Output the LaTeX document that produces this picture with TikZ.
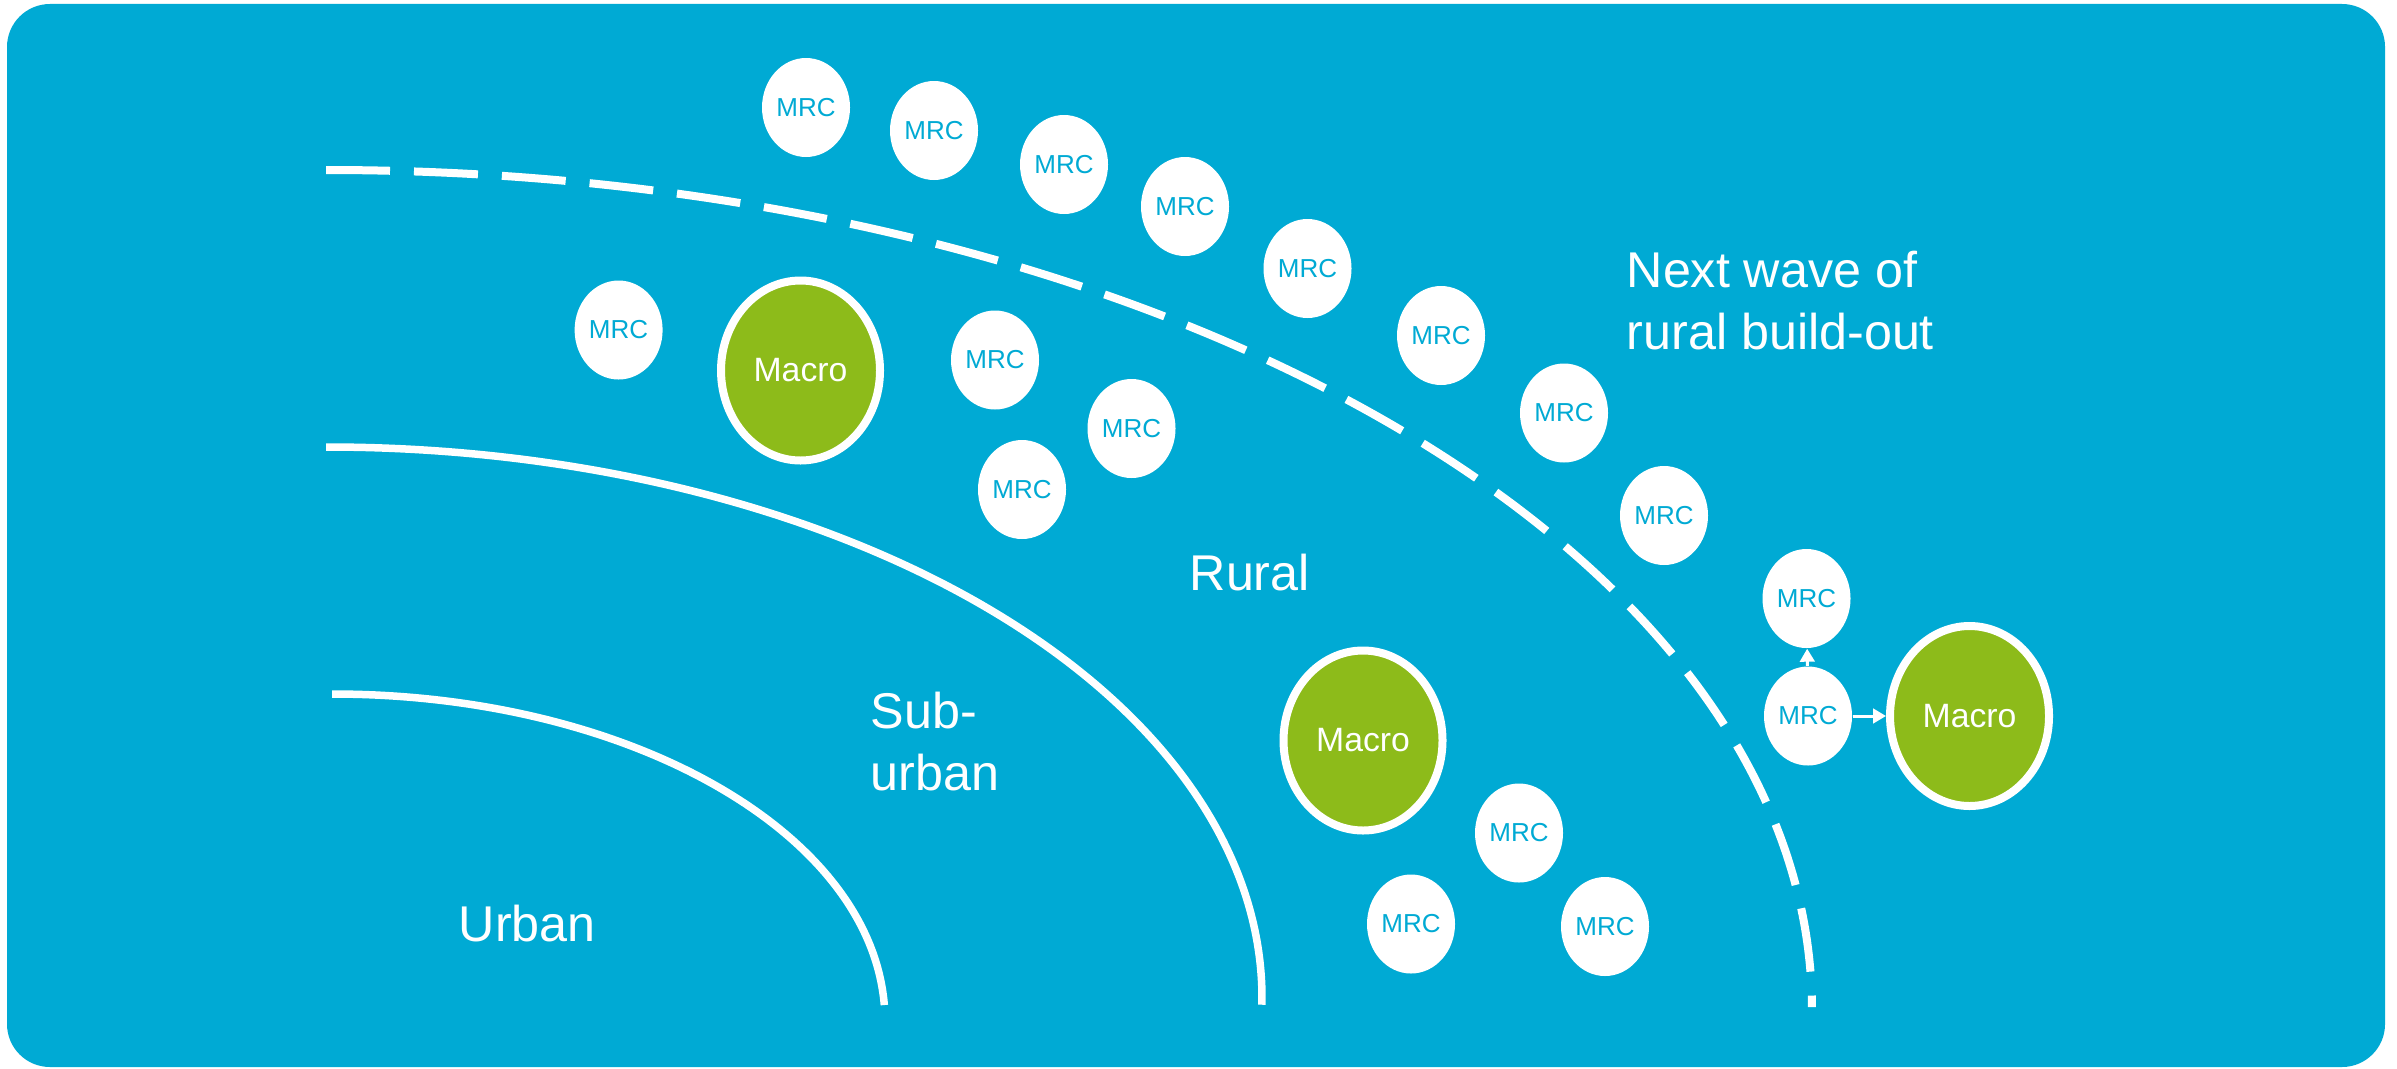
\documentclass[tikz,border=0pt]{standalone}
\usepackage{fontspec}
\setmainfont{Liberation Sans}
\usetikzlibrary{shapes.geometric,arrows.meta}

\definecolor{skyband}{RGB}{0,170,212}
\definecolor{macrogreen}{RGB}{141,187,26}

\tikzset{
  mrc/.style={ellipse, fill=white, inner sep=0pt, minimum width=0.88cm, minimum height=0.99cm,
    text=skyband, font=\fontsize{7.4}{8}\selectfont},
  macro/.style={ellipse, fill=macrogreen, draw=white, line width=0.08cm, inner sep=0pt,
    minimum width=1.59cm, minimum height=1.80cm, text=white, font=\fontsize{9.6}{11}\selectfont},
  zone/.style={text=white, inner sep=0pt, anchor=base west, align=left,
    font=\fontsize{14.3}{17.4}\selectfont},
  zoneline/.style={white, line width=0.075cm},
  wave/.style={white, line width=0.08cm, dash pattern=on 0.64cm off 0.24cm},
  feed/.style={white, line width=0.03cm, -{Triangle[length=0.13cm,width=0.145cm]}}
}

\begin{document}
\begin{tikzpicture}
\useasboundingbox (0,0) rectangle (23.97,-10.68);
\fill[white] (0,0) rectangle (23.97,-10.68);
\fill[skyband, rounded corners=0.43cm] (0.07,-0.04) rectangle (23.85,-10.67);

% zone borders
\draw[zoneline] (3.32,-6.94) arc[start angle=90, end angle=2.8, x radius=5.53cm, y radius=3.27cm];
\draw[zoneline] (3.26,-4.47) arc[start angle=90, end angle=-0.7, x radius=9.36cm, y radius=5.51cm];
\draw[wave] (3.26,-1.70) arc[start angle=90, end angle=0.2, x radius=14.86cm, y radius=8.40cm];

% zone names (base = last line)
\node[zone] (urban) at (4.58,-9.417) {Urban};
\node[zone] (suburban) at (8.70,-7.90) {Sub-\\urban};
\node[zone] (rural) at (11.89,-5.90) {Rural};
\node[zone] (nextwave) at (16.26,-3.49) {Next wave of\\rural build-out};

% macro sites
\node[macro] (mac1) at (8.005,-3.705) {Macro};
\node[macro] (mac2) at (13.63,-7.405) {Macro};
\node[macro] (mac3) at (19.695,-7.16) {Macro};

% MRCs along the outer edge
\node[mrc] (mrc1) at (8.06,-1.075) {MRC};
\node[mrc] (mrc2) at (9.34,-1.305) {MRC};
\node[mrc] (mrc3) at (10.64,-1.645) {MRC};
\node[mrc] (mrc4) at (11.85,-2.065) {MRC};
\node[mrc] (mrc5) at (13.075,-2.685) {MRC};
\node[mrc] (mrc6) at (14.41,-3.355) {MRC};
\node[mrc] (mrc7) at (15.64,-4.13) {MRC};
\node[mrc] (mrc8) at (16.64,-5.155) {MRC};

% MRCs inside
\node[mrc] (mrc9) at (6.186,-3.30) {MRC};
\node[mrc] (mrc10) at (9.95,-3.60) {MRC};
\node[mrc] (mrc11) at (11.315,-4.285) {MRC};
\node[mrc] (mrc12) at (10.22,-4.895) {MRC};
\node[mrc] (mrc13) at (15.19,-8.33) {MRC};
\node[mrc] (mrc14) at (14.11,-9.24) {MRC};
\node[mrc] (mrc15) at (16.05,-9.265) {MRC};

% MRCs beyond
\node[mrc] (mrc16) at (18.065,-5.985) {MRC};
\node[mrc] (mrc17) at (18.08,-7.16) {MRC};

\draw[feed] (mrc17) -- (mac3);
\draw[feed] (mrc17) -- (mrc16);
\end{tikzpicture}
\end{document}
